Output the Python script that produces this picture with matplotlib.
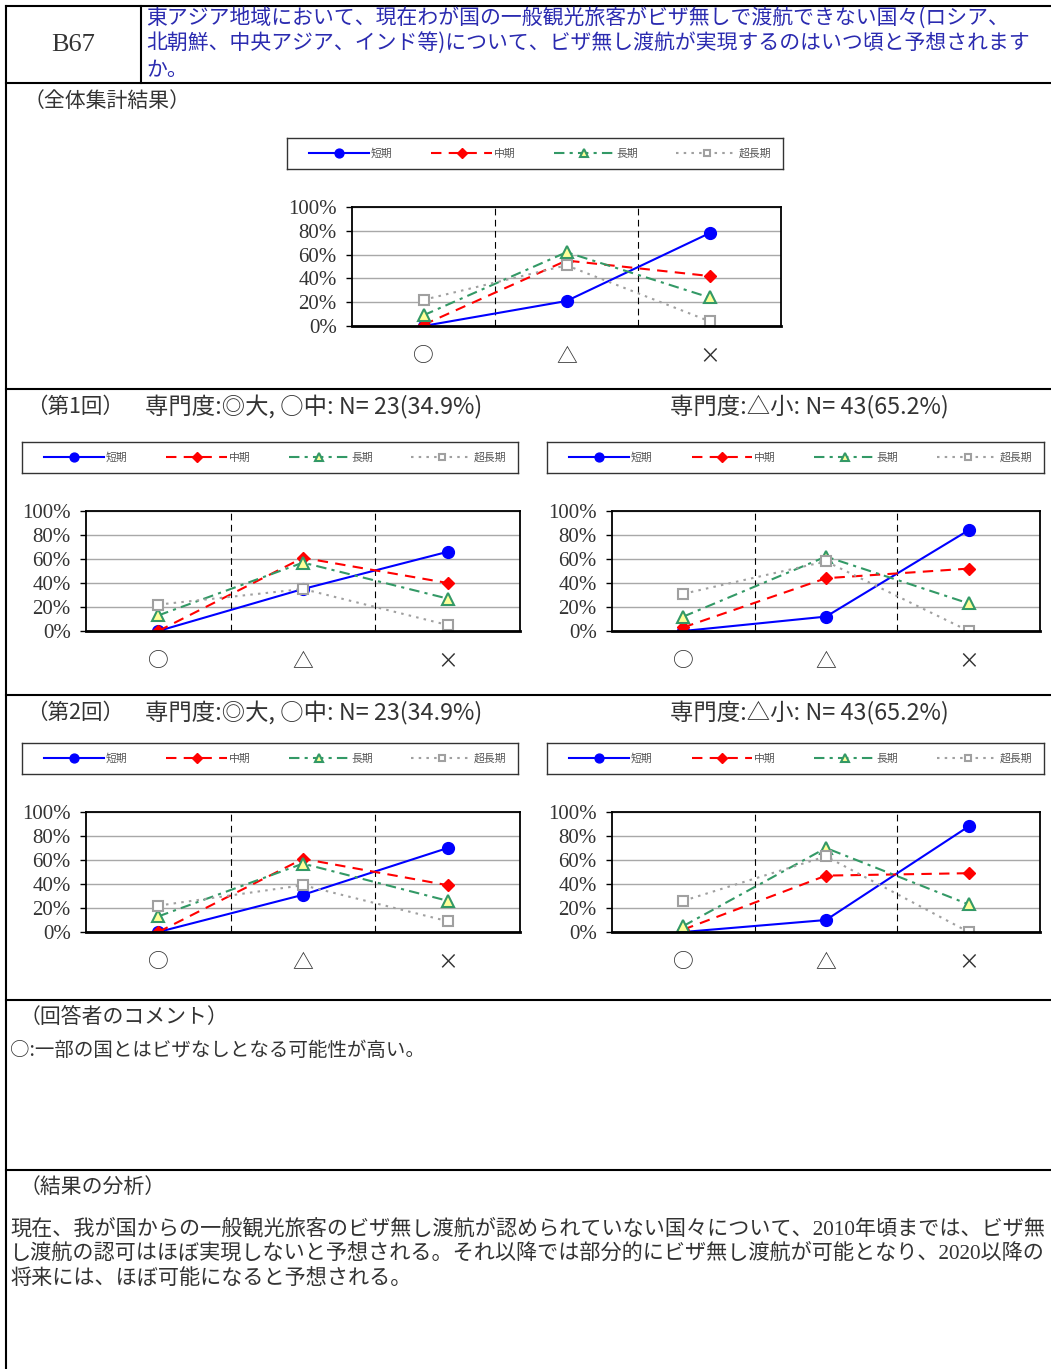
import matplotlib
matplotlib.use("Agg")
import matplotlib.pyplot as plt
from matplotlib.lines import Line2D
from matplotlib.ticker import FuncFormatter

W, H = 1051, 1369
JP = ["Noto Sans CJK JP", "DejaVu Sans"]
SERIF_JP = ["Liberation Serif", "Noto Sans CJK JP", "DejaVu Sans"]

categories = ["○", "△", "×"]
series_names = ["短期", "中期", "長期", "超長期"]

# values (%)
overall_short = [0, 21, 78]
overall_mid = [1, 55, 42]
overall_long = [9, 62, 24]
overall_vlong = [22, 51, 4]

r1_high_short = [0, 35, 66]
r1_high_mid = [0, 61, 40]
r1_high_long = [13, 57, 27]
r1_high_vlong = [22, 35, 5]

r1_low_short = [0, 12, 84]
r1_low_mid = [3, 44, 52]
r1_low_long = [12, 62, 23]
r1_low_vlong = [31, 58, 0]

r2_high_short = [0, 31, 70]
r2_high_mid = [0, 61, 39]
r2_high_long = [13, 57, 26]
r2_high_vlong = [22, 39, 9]

r2_low_short = [0, 10, 88]
r2_low_mid = [2, 47, 49]
r2_low_long = [5, 70, 23]
r2_low_vlong = [26, 63, 0]

STYLES = [
    dict(color="#0000ff", marker="o", ms=8.5, mfc="#0000ff", mec="#0000ff", ls="-"),
    dict(color="#ff0000", marker="D", ms=6.5, mfc="#ff0000", mec="#ff0000", dashes=(5, 3.5)),
    dict(color="#339966", marker="^", ms=8.5, mfc="#ffff99", mec="#339966", mew=1.5,
         dashes=(5, 2.5, 1.5, 2.5)),
    dict(color="#a0a0a0", marker="s", ms=6.5, mfc="white", mec="#a0a0a0", mew=1.5,
         dashes=(1.2, 2.5)),
]


def rect(x0, y0, x1, y1):
    return [x0 / W, 1 - y1 / H, (x1 - x0) / W, (y1 - y0) / H]


def hline(fig, y, x0=6, x1=W):
    fig.add_artist(Line2D([x0 / W, x1 / W], [1 - y / H, 1 - y / H],
                          transform=fig.transFigure, color="black", lw=1.5))


def vline(fig, x, y0, y1):
    fig.add_artist(Line2D([x / W, x / W], [1 - y0 / H, 1 - y1 / H],
                          transform=fig.transFigure, color="black", lw=1.5))


def text(fig, x, y, s, size=14, color="#333333", family=JP, **kw):
    fig.text(x / W, 1 - y / H, s, fontsize=size, color=color, family=family,
             va="center", **kw)


def draw_chart(fig, box, series):
    ax = fig.add_axes(rect(*box))
    x = range(len(categories))
    for vals, st in zip(series, STYLES):
        ax.plot(x, vals, lw=1.5, **st)
    ax.set_xlim(-0.5, len(categories) - 0.5)
    ax.set_ylim(0, 100)
    ax.set_yticks(range(0, 101, 20))
    ax.yaxis.set_major_formatter(FuncFormatter(lambda v, p: f"{v:.0f}%"))
    ax.yaxis.grid(True, color="#a8a8a8", lw=1)
    ax.set_axisbelow(True)
    for b in (0.5, 1.5):
        ax.axvline(b, color="black", lw=0.8, dashes=(6, 4), zorder=1)
    ax.set_xticks(list(x))
    ax.set_xticklabels(categories, family=JP, fontsize=15, color="#333333")
    ax.tick_params(axis="x", length=0, pad=14)
    ax.tick_params(axis="y", length=4, width=1, pad=7, labelsize=15,
                   labelcolor="#333333")
    for lab in ax.get_yticklabels():
        lab.set_family(["Liberation Serif"])
    for sp in ax.spines.values():
        sp.set_color("black")
        sp.set_linewidth(1.3)
    ax.spines["bottom"].set_linewidth(2)
    return ax


def draw_legend(fig, box):
    lax = fig.add_axes(rect(*box))
    lax.set_xticks([])
    lax.set_yticks([])
    for sp in lax.spines.values():
        sp.set_color("#333333")
        sp.set_linewidth(1)
    handles = []
    for name, st in zip(series_names, STYLES):
        st2 = dict(st)
        st2["ms"] = st["ms"] * 0.75
        handles.append(Line2D([], [], lw=1.5, label=name, **st2))
    leg = lax.legend(handles=handles, loc="center", ncol=4, frameon=False,
                     mode="expand", bbox_to_anchor=(0.035, 0, 0.95, 1),
                     handlelength=5.6, handletextpad=0.15, borderaxespad=0,
                     prop={"family": JP, "size": 7.8})
    for t in leg.get_texts():
        t.set_color("#555555")


fig = plt.figure(figsize=(W / 100, H / 100), dpi=100)

# page frame
hline(fig, 6)
vline(fig, 6, 6, H)
vline(fig, 141, 6, 83)
for y in (83, 389, 695, 1000, 1170):
    hline(fig, y)

text(fig, 73, 45, "B67", size=19, family=["Liberation Serif"], ha="center")
q_lines = ["東アジア地域において、現在わが国の一般観光旅客がビザ無しで渡航できない国々(ロシア、",
           "北朝鮮、中央アジア、インド等)について、ビザ無し渡航が実現するのはいつ頃と予想されます",
           "か。"]
for i, s in enumerate(q_lines):
    text(fig, 146, 18 + 26 * i, s, size=15.0, color="#2b2bb0")

text(fig, 24, 101, "（全体集計結果）", size=15)
draw_legend(fig, (287, 138, 783, 169))
draw_chart(fig, (352, 207, 781, 326),
           [overall_short, overall_mid, overall_long, overall_vlong])

rounds = [
    ("（第1回）", 407, 442, 511,
     [r1_high_short, r1_high_mid, r1_high_long, r1_high_vlong],
     [r1_low_short, r1_low_mid, r1_low_long, r1_low_vlong]),
    ("（第2回）", 713, 743, 812,
     [r2_high_short, r2_high_mid, r2_high_long, r2_high_vlong],
     [r2_low_short, r2_low_mid, r2_low_long, r2_low_vlong]),
]
for label, ty, ly, ay, left, right in rounds:
    text(fig, 26, ty, label, size=15.5)
    text(fig, 145, ty, "専門度:◎大, ○中: N= 23(34.9%)", size=16.8)
    text(fig, 670, ty, "専門度:△小: N= 43(65.2%)", size=16.8)
    draw_legend(fig, (22, ly, 518, ly + 31))
    draw_legend(fig, (547, ly, 1044, ly + 31))
    draw_chart(fig, (86, ay, 520, ay + 120), left)
    draw_chart(fig, (612, ay, 1040, ay + 120), right)

text(fig, 20, 1017, "（回答者のコメント）", size=15)
text(fig, 10, 1050, "○:一部の国とはビザなしとなる可能性が高い。", size=14)
text(fig, 20, 1187, "（結果の分析）", size=15)
analysis = ["現在、我が国からの一般観光旅客のビザ無し渡航が認められていない国々について、2010年頃までは、ビザ無",
            "し渡航の認可はほぼ実現しないと予想される。それ以降では部分的にビザ無し渡航が可能となり、2020以降の",
            "将来には、ほぼ可能になると予想される。"]
for i, s in enumerate(analysis):
    text(fig, 10, 1229 + 25 * i, s, size=15.2, family=SERIF_JP)

fig.savefig("out.png", dpi=100, facecolor="white")
